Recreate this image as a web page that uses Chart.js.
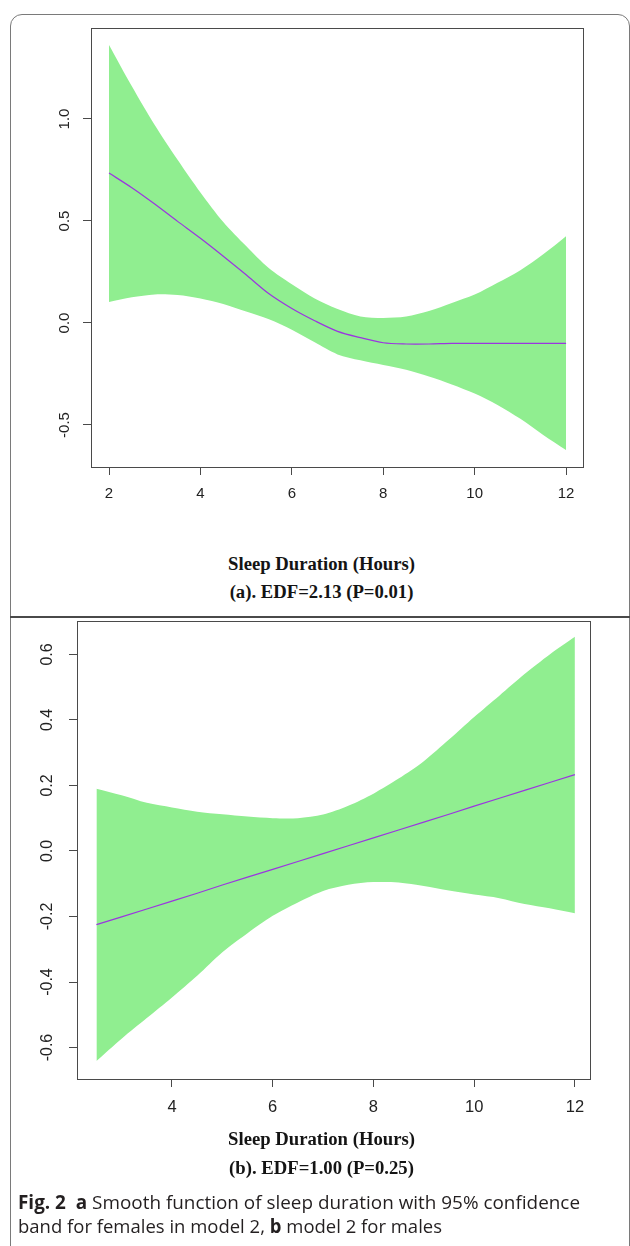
<!DOCTYPE html>
<html><head><meta charset="utf-8">
<script src="https://cdn.jsdelivr.net/npm/chart.js@4.4.0/dist/chart.umd.min.js"></script>
<style>
html,body{margin:0;padding:0;background:#fff;width:630px;height:1246px;overflow:hidden;position:relative}
#frame{position:absolute;left:10px;top:14px;width:620px;height:1300px;border:1.5px solid #7a7a7a;border-radius:12px;box-sizing:border-box}
#sep{position:absolute;left:10px;top:616px;width:620px;height:2px;background:#4a4a4a}
canvas{position:absolute;left:0}
.ttl{position:absolute;left:0;width:643px;text-align:center;font-family:"Liberation Serif","Times New Roman",serif;font-weight:bold;font-size:18.7px;line-height:20px;color:#141414;white-space:nowrap}
.cap{position:absolute;left:18px;font-family:"Open Sans","Noto Sans",sans-serif;font-size:19px;line-height:23px;color:#231f20;white-space:nowrap;transform-origin:0 0;display:inline-block}
.cap b{font-weight:700}
</style></head>
<body>
<div id="frame"></div>
<canvas id="c1" width="630" height="540" style="top:0"></canvas>
<div class="ttl" style="top:554px">Sleep Duration (Hours)</div>
<div class="ttl" style="top:582px">(a). EDF=2.13 (P=0.01)</div>
<div id="sep"></div>
<canvas id="c2" width="630" height="511" style="top:619px"></canvas>
<div class="ttl" style="top:1129px">Sleep Duration (Hours)</div>
<div class="ttl" style="top:1158px">(b). EDF=1.00 (P=0.25)</div>
<div class="cap" id="cap1" style="top:1191px"><b>Fig. 2</b>&nbsp; <b>a</b> Smooth function of sleep duration with 95% confidence</div>
<div class="cap" id="cap2" style="top:1215px">band for females in model 2, <b>b</b> model 2 for males</div>
<script>
// ---- Panel (a): females ----
const topX = [2,2.5,3,3.5,4,4.5,5,5.5,6,6.5,7,7.5,8,8.5,9,9.5,10,10.5,11,11.5,12];
const topUpper = [1.363,1.16,0.97,0.80,0.64,0.495,0.377,0.268,0.19,0.12,0.068,0.032,0.025,0.032,0.059,0.098,0.139,0.197,0.259,0.337,0.426];
const topLower = [0.103,0.126,0.140,0.137,0.120,0.093,0.056,0.018,-0.033,-0.095,-0.154,-0.183,-0.206,-0.229,-0.262,-0.301,-0.346,-0.402,-0.470,-0.549,-0.623];
const topFit = [0.735,0.663,0.583,0.498,0.415,0.327,0.236,0.143,0.071,0.011,-0.041,-0.072,-0.097,-0.103,-0.103,-0.100,-0.100,-0.100,-0.100,-0.100,-0.100];
const topXTicks = [2,4,6,8,10,12];
const topYTicks = [-0.5,0,0.5,1.0];
const topYTickLabels = ["-0.5","0.0","0.5","1.0"];

// ---- Panel (b): males ----
const botX = [2.5,3,3.5,4,4.5,5,5.5,6,6.5,7,7.5,8,8.5,9,9.5,10,10.5,11,11.5,12];
const botUpper = [0.19,0.17,0.147,0.133,0.12,0.112,0.105,0.10,0.10,0.111,0.138,0.175,0.221,0.274,0.34,0.409,0.474,0.54,0.60,0.654];
const botLower = [-0.641,-0.573,-0.51,-0.447,-0.381,-0.309,-0.251,-0.198,-0.157,-0.122,-0.103,-0.095,-0.096,-0.107,-0.121,-0.133,-0.144,-0.162,-0.175,-0.19];
const botFit = [-0.225,-0.201,-0.177,-0.153,-0.129,-0.104,-0.080,-0.056,-0.032,-0.008,0.016,0.040,0.064,0.088,0.112,0.137,0.161,0.185,0.209,0.233];
const botXTicks = [4,6,8,10,12];
const botYTicks = [-0.6,-0.4,-0.2,0,0.2,0.4,0.6];
const botYTickLabels = ["-0.6","-0.4","-0.2","0.0","0.2","0.4","0.6"];

const BAND = '#90EE90', FIT = '#9B35E0', AX = '#4a4a4a';

const pts = (xs, ys) => xs.map((x,i)=>({x:x, y:ys[i]}));

const boxPlugin = {
  id:'boxPlugin',
  afterDraw(chart){
    const a = chart.chartArea, ctx = chart.ctx;
    ctx.save(); ctx.strokeStyle = AX; ctx.lineWidth = 1;
    ctx.strokeRect(Math.round(a.left)+0.5, Math.round(a.top)+0.5, Math.round(a.right-a.left), Math.round(a.bottom-a.top));
    ctx.restore();
  }
};
const rotLabels = {
  id:'rotLabels',
  afterDraw(chart, args, opts){
    const ys = chart.scales.y, ctx = chart.ctx;
    ctx.save(); ctx.font = opts.font; ctx.fillStyle = opts.color;
    ctx.textAlign = 'center'; ctx.textBaseline = 'middle';
    opts.values.forEach((v,i)=>{
      const py = ys.getPixelForValue(v);
      ctx.save(); ctx.translate(chart.chartArea.left - opts.offset, py); ctx.rotate(-Math.PI/2);
      ctx.fillText(opts.labels[i], 0, 0); ctx.restore();
    });
    ctx.restore();
  }
};

function makeChart(id, cfg){
  return new Chart(document.getElementById(id), {
    type:'line',
    data:{datasets:[
      {data:pts(cfg.x, cfg.fit), borderColor:FIT, borderWidth:1.2, pointRadius:0, fill:false, tension:cfg.tension},
      {data:pts(cfg.x, cfg.upper), borderWidth:0, borderColor:BAND, backgroundColor:BAND, pointRadius:0, fill:'+1', tension:0.3},
      {data:pts(cfg.x, cfg.lower), borderWidth:0, borderColor:BAND, backgroundColor:BAND, pointRadius:0, fill:false, tension:0.3}
    ]},
    options:{
      responsive:false, animation:false, devicePixelRatio:1,
      layout:{padding:{top:cfg.padTop, right:cfg.padRight, left:0, bottom:0}},
      plugins:{legend:{display:false}, tooltip:{enabled:false},
        rotLabels:{values:cfg.yTicks, labels:cfg.yLabels, font:cfg.yFont, color:'#222', offset:cfg.yOffset}},
      scales:{
        x:{type:'linear', min:cfg.xMin, max:cfg.xMax,
          afterBuildTicks:s=>{s.ticks = cfg.xTicks.map(v=>({value:v}));},
          afterFit:s=>{s.height = cfg.xHeight;},
          ticks:{callback:v=>String(v), font:{family:'Liberation Sans', size:cfg.xFontSize}, color:'#222', padding:cfg.xPad, autoSkip:false, maxRotation:0, minRotation:0},
          grid:{display:true, drawOnChartArea:false, drawTicks:true, tickLength:8, color:AX, tickColor:AX},
          border:{display:false}},
        y:{type:'linear', min:cfg.yMin, max:cfg.yMax,
          afterBuildTicks:s=>{s.ticks = cfg.yTicks.map(v=>({value:v}));},
          afterFit:s=>{s.width = cfg.yWidth;},
          ticks:{display:false},
          grid:{display:true, drawOnChartArea:false, drawTicks:true, tickLength:8, color:AX, tickColor:AX},
          border:{display:false}}
      }
    },
    plugins:[boxPlugin, rotLabels]
  });
}

makeChart('c1', {x:topX, fit:topFit, upper:topUpper, lower:topLower, tension:0.3,
  xTicks:topXTicks, yTicks:topYTicks, yLabels:topYTickLabels,
  xMin:1.606, xMax:12.37, yMin:-0.706, yMax:1.446,
  padTop:28, padRight:47, xHeight:73, yWidth:91, xPad:10, xFontSize:15,
  yFont:'15px "Liberation Sans"', yOffset:26});

makeChart('c2', {x:botX, fit:botFit, upper:botUpper, lower:botLower, tension:0,
  xTicks:botXTicks, yTicks:botYTicks, yLabels:botYTickLabels,
  xMin:2.114, xMax:12.30, yMin:-0.696, yMax:0.702,
  padTop:2, padRight:40, xHeight:51, yWidth:77, xPad:11, xFontSize:16.5,
  yFont:'16px "Liberation Sans"', yOffset:29});

function fitCap(id, w){
  const el = document.getElementById(id);
  const nat = el.getBoundingClientRect().width;
  if (nat > 0) el.style.transform = 'scaleX(' + (w/nat) + ')';
}
fitCap('cap1', 562);
fitCap('cap2', 424);
</script>
</body></html>
